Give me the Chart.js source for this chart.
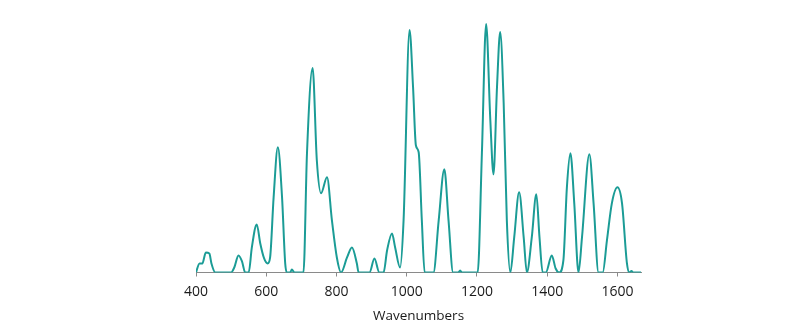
<!DOCTYPE html>
<html>
<head>
<meta charset="utf-8">
<script src="https://cdn.jsdelivr.net/npm/chart.js@4/dist/chart.umd.min.js"></script>
<style>
  html, body { margin: 0; padding: 0; background: #fff; }
  #wrap { width: 800px; height: 332px; position: relative; }
</style>
</head>
<body>
<div id="wrap"><canvas id="spectrum"></canvas></div>
<script>
// spectrum
const wavenumbers = [
  400, 410, 418, 428, 438, 444, 455, 500, 509, 521, 531, 540, 550, 559, 573, 583,
  594, 604, 611, 621, 633, 645, 654, 659, 668, 673, 680, 706, 716, 732, 744, 756,
  773, 787, 801, 813, 830, 844, 858, 863, 894, 908, 922, 934, 944, 958, 967, 981,
  991, 1008, 1018, 1026, 1034, 1043, 1051, 1076, 1091, 1107, 1119, 1132, 1147, 1152,
  1157, 1202, 1214, 1226, 1238, 1247, 1257, 1266, 1276, 1285, 1295, 1306, 1320, 1333,
  1342, 1356, 1369, 1378, 1387, 1396, 1413, 1424, 1434, 1446, 1456, 1466, 1477, 1489,
  1499, 1520, 1532, 1546, 1558, 1570, 1584, 1600, 1613, 1627, 1634, 1640, 1645, 1667
];
const intensity = [
  0, 9, 9, 20, 19, 9, 0, 0, 5, 17, 11, 0, 0, 25, 48, 29,
  14, 9, 15, 75, 125, 75, 9, 0, 0, 3, 0, 0, 119, 204, 112, 79,
  95, 52, 15, 0, 15, 25, 9, 0, 0, 14, 0, 0, 22, 39, 25, 5,
  52, 242, 185, 127, 120, 52, 0, 0, 52, 103, 52, 0, 0, 2,
  0, 0, 119, 248, 152, 98, 185, 240, 169, 52, 0, 35, 80, 35,
  0, 35, 78, 35, 0, 0, 17, 4, 0, 12, 85, 119, 69, 0,
  35, 118, 69, 0, 0, 32, 69, 85, 69, 9, 0, 1.5, 0, 0
];
const xTicks = [400, 600, 800, 1000, 1200, 1400, 1600];

const points = wavenumbers.map((w, i) => ({ x: w, y: intensity[i] }));

new Chart(document.getElementById('spectrum'), {
  type: 'line',
  data: {
    datasets: [{
      data: points,
      borderColor: '#1b9c96',
      borderWidth: 2,
      pointRadius: 0,
      fill: false,
      cubicInterpolationMode: 'monotone'
    }]
  },
  options: {
    responsive: true,
    maintainAspectRatio: false,
    animation: false,
    layout: { padding: { left: 196, right: 159, top: 22, bottom: 0 } },
    plugins: { legend: { display: false }, tooltip: { enabled: false } },
    scales: {
      x: {
        type: 'linear',
        min: 400,
        max: 1667,
        afterBuildTicks: (scale) => { scale.ticks = xTicks.map(v => ({ value: v })); },
        afterFit: (scale) => { scale.height = 59.5; },
        border: { display: true, color: '#8a8a8a', width: 1 },
        grid: { drawOnChartArea: false, drawTicks: true, tickLength: 4, color: '#8a8a8a' },
        ticks: {
          color: '#1a1a1a',
          font: { family: 'Open Sans', size: 14 },
          padding: 7,
          maxRotation: 0,
          callback: (v) => String(v)
        },
        title: {
          display: true,
          text: 'Wavenumbers',
          color: '#1a1a1a',
          font: { family: 'Open Sans', size: 13.5 },
          padding: { top: 0, bottom: 8 }
        }
      },
      y: {
        display: false,
        min: 0,
        max: 250
      }
    }
  }
});
</script>
</body>
</html>
